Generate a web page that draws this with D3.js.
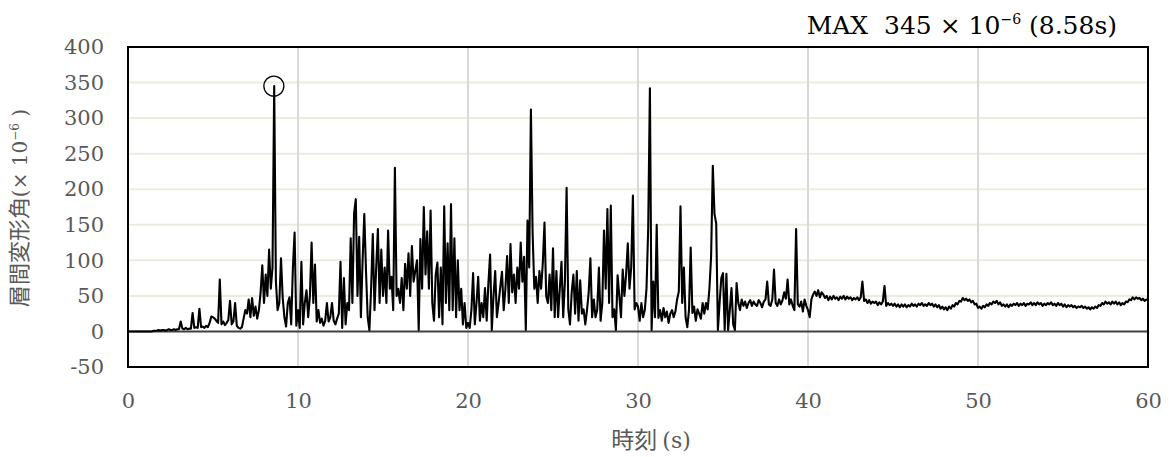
<!DOCTYPE html>
<html><head><meta charset="utf-8">
<script src="https://cdn.jsdelivr.net/npm/d3@7"></script>
<style>body{margin:0;background:#fff}</style>
</head><body><svg id="c" width="1171" height="457"></svg>
<script>
const xTicks = [0, 10, 20, 30, 40, 50, 60];
const yTicks = [-50, 0, 50, 100, 150, 200, 250, 300, 350, 400];
const sampleStep = 0.1; // s
const driftValues = [
  0,0,0,0,0,0,0,0,0,0,            // 0
  0,0,0,0,0,1,1,1,2,1,            // 1
  2,2,1,2,3,2,2,3,2,3,            // 2
  3,14,4,3,5,3,4,4,26,5,          // 3
  6,5,32,6,7,5,8,6,12,21,         // 4
  20,18,15,12,73,10,14,9,12,16,   // 5
  43,10,14,40,8,5,4,6,18,30,      // 6
  25,45,20,47,22,35,18,30,55,93,  // 7
  40,80,50,115,60,90,345,70,30,40,// 8
  103,47,20,7,40,48,10,90,139,8,  // 9
  30,5,98,10,40,58,20,50,125,40,  // 10
  94,14,30,12,18,8,15,40,14,20,   // 11
  40,15,10,18,25,98,5,75,10,40,   // 12
  30,131,40,166,186,50,133,20,100,165, // 13
  85,20,2,60,137,30,90,144,40,115,// 14
  50,90,40,142,60,77,30,230,50,60,// 15
  40,75,30,95,60,110,50,120,70,85,// 16
  100,2,130,60,175,80,141,60,170,40, // 17
  15,80,97,20,90,10,176,40,124,30,// 18
  179,30,131,20,100,30,60,10,40,5,// 19
  12,5,30,82,10,40,77,15,40,20,   // 20
  61,15,68,108,2,50,85,20,40,63,  // 21
  84,30,60,106,40,123,55,80,40,90,// 22
  60,125,70,105,2,156,90,312,139,60, // 23
  77,40,85,60,96,153,50,40,80,30, // 24
  117,20,85,20,60,98,20,70,202,31,// 25
  10,55,80,25,85,15,72,25,31,10,  // 26
  30,55,103,20,45,20,30,90,15,40, // 27
  142,60,172,40,177,20,31,2,79,50,// 28
  20,87,50,80,124,60,90,191,31,40,// 29
  35,15,40,20,30,60,145,342,2,70, // 30
  20,150,19,30,15,33,20,28,12,25, // 31
  30,20,28,45,56,176,40,90,20,6,  // 32
  30,118,26,35,15,31,25,18,40,25, // 33
  40,31,60,105,233,165,152,2,40,75, // 34
  82,2,81,2,30,61,10,2,68,40,     // 35
  30,45,36,42,33,40,44,36,42,38,  // 36
  36,44,40,34,42,45,70,38,36,45,  // 37
  87,40,36,45,38,44,55,46,73,38,  // 38
  45,36,30,144,38,35,42,28,45,36, // 39
  30,20,45,52,56,50,58,48,55,52,  // 40
  47,50,44,49,45,50,46,48,44,49,  // 41
  46,50,45,49,46,48,44,47,45,48,  // 42
  44,48,70,43,45,40,44,39,42,40,  // 43
  42,37,41,38,42,64,36,40,37,39,  // 44
  36,39,35,38,34,38,35,38,34,37,  // 45
  35,39,36,38,35,39,37,40,36,38,  // 46
  36,40,37,39,35,38,34,37,32,35,  // 47
  31,34,30,35,32,37,35,40,38,43,  // 48
  42,47,44,46,43,45,41,43,38,39,  // 49
  33,35,32,36,34,38,36,40,38,42,  // 50
  40,43,38,41,36,38,35,38,34,38,  // 51
  36,39,37,40,36,39,37,40,36,39,  // 52
  38,41,37,40,37,41,38,40,36,39,  // 53
  37,40,38,41,37,39,36,40,37,39,  // 54
  35,38,34,37,35,37,34,36,33,35,  // 55
  34,36,33,35,32,34,31,34,32,35,  // 56
  33,37,36,40,38,42,39,41,38,42,  // 57
  39,42,38,41,37,40,38,42,41,45,  // 58
  44,48,45,48,46,47,44,46,43,45,  // 59
  44                              // 60
];
const maxTime = 8.58;
const maxValue = 345;
const titleMain = "MAX\u00a0\u00a0345\u00a0\u00d7\u00a010";
const titleSup = "\u22126";
const titleTail = " (8.58s)";
const xLabelJa = "時刻 ";
const xLabelUnit = "(s)";
const yLabelJa = "層間変形角";
const yLabelUnit = "(× 10";
const yLabelSup = "\u22126";
const yLabelEnd = " )";

const svg = d3.select('#c');
const m = {l: 128, r: 1148, t: 47, b: 367};
const x = d3.scaleLinear().domain([0, 60]).range([m.l, m.r]);
const y = d3.scaleLinear().domain([-50, 400]).range([m.b, m.t]);
const serif = "'DejaVu Serif', serif";
const cjk = "'Noto Sans CJK JP', sans-serif";

// horizontal grid
svg.append('g').selectAll('line')
  .data(yTicks.filter(d => d > 0 && d < 400)).join('line')
  .attr('x1', m.l).attr('x2', m.r)
  .attr('y1', d => y(d)).attr('y2', d => y(d))
  .attr('stroke', '#eeeadf').attr('stroke-width', 2);
// vertical grid
svg.append('g').selectAll('line')
  .data(xTicks.filter(d => d > 0 && d < 60)).join('line')
  .attr('x1', d => x(d)).attr('x2', d => x(d))
  .attr('y1', m.t).attr('y2', m.b)
  .attr('stroke', '#d9d9d9').attr('stroke-width', 2);
// zero line
svg.append('line').attr('x1', m.l).attr('x2', m.r)
  .attr('y1', y(0)).attr('y2', y(0))
  .attr('stroke', '#404040').attr('stroke-width', 2);

// data line
const pts = driftValues.map((v, i) => [i * sampleStep, v]);
svg.append('path').datum(pts)
  .attr('fill', 'none').attr('stroke', '#000').attr('stroke-width', 2.1)
  .attr('stroke-linejoin', 'round')
  .attr('d', d3.line().x(d => x(d[0])).y(d => y(d[1])));

// max marker
svg.append('circle').attr('cx', x(maxTime)).attr('cy', y(maxValue)).attr('r', 10)
  .attr('fill', 'none').attr('stroke', '#000').attr('stroke-width', 1.3);

// frame
svg.append('rect').attr('x', m.l).attr('y', m.t).attr('width', m.r - m.l).attr('height', m.b - m.t)
  .attr('fill', 'none').attr('stroke', '#000').attr('stroke-width', 2);

// axes
const ya = svg.append('g').attr('transform', `translate(${m.l},0)`)
  .call(d3.axisLeft(y).tickValues(yTicks).tickSize(0).tickPadding(24).tickFormat(d => d));
const xa = svg.append('g').attr('transform', `translate(0,${m.b})`)
  .call(d3.axisBottom(x).tickValues(xTicks).tickSize(0).tickPadding(26).tickFormat(d => d));
[ya, xa].forEach(a => {
  a.select('.domain').remove();
  a.selectAll('text').attr('font-family', serif).attr('font-size', 21).attr('fill', '#595959');
});

// title
const tt = svg.append('text').attr('x', 1117).attr('y', 34).attr('text-anchor', 'end')
  .attr('font-family', serif).attr('font-size', 25).attr('fill', '#000');
tt.append('tspan').text(titleMain);
tt.append('tspan').attr('font-size', 14).attr('dy', -10).text(titleSup);
tt.append('tspan').attr('dy', 10).text(titleTail);

// x label
const xl = svg.append('text').attr('x', 651).attr('y', 448).attr('text-anchor', 'middle')
  .attr('font-size', 23).attr('fill', '#595959');
xl.append('tspan').attr('font-family', cjk).text(xLabelJa);
xl.append('tspan').attr('font-family', serif).attr('font-size', 22).text(xLabelUnit);

// y label
const yl = svg.append('text').attr('transform', 'translate(27,208) rotate(-90)').attr('text-anchor', 'middle')
  .attr('font-size', 22).attr('fill', '#595959');
yl.append('tspan').attr('font-family', cjk).text(yLabelJa);
yl.append('tspan').attr('font-family', serif).attr('font-size', 20).text(yLabelUnit);
yl.append('tspan').attr('font-family', serif).attr('font-size', 12).attr('dy', -8).text(yLabelSup);
yl.append('tspan').attr('font-family', serif).attr('font-size', 20).attr('dy', 8).text(yLabelEnd);
</script></body></html>
